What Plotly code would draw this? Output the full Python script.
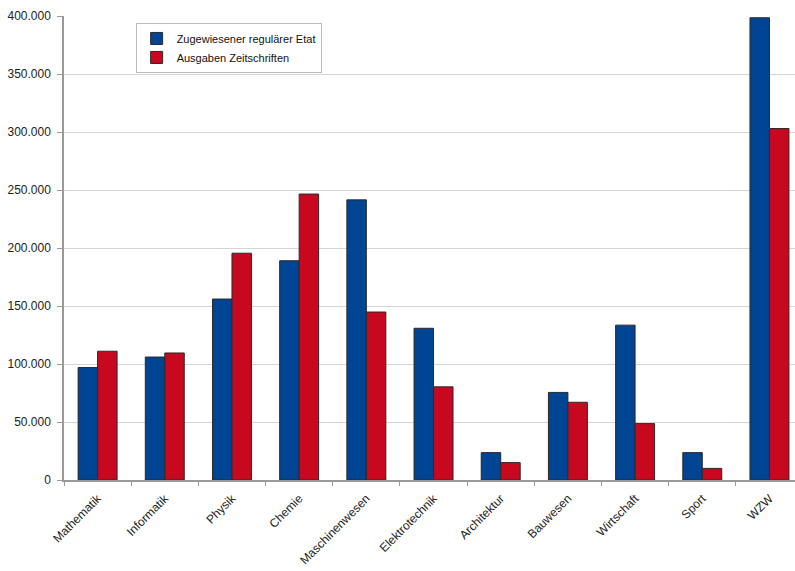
import plotly.graph_objects as go

categories = ["Mathematik", "Informatik", "Physik", "Chemie", "Maschinenwesen",
              "Elektrotechnik", "Architektur", "Bauwesen", "Wirtschaft", "Sport", "WZW"]
etat = [97000, 106000, 156000, 189000, 241500, 130800, 23600, 75500, 133500, 23600, 398500]
ausgaben = [111000, 109500, 195500, 246500, 144800, 80300, 15000, 67000, 48600, 10000, 303000]
series_names = ["Zugewiesener regulärer Etat", "Ausgaben Zeitschriften"]
yticks = [0, 50000, 100000, 150000, 200000, 250000, 300000, 350000, 400000]

blue = "#004494"
red = "#C8081E"
edge = dict(color="#2a2a2a", width=1)

fig = go.Figure()
fig.add_trace(go.Bar(x=categories, y=etat, name=series_names[0],
                     marker=dict(color=blue, line=edge)))
fig.add_trace(go.Bar(x=categories, y=ausgaben, name=series_names[1],
                     marker=dict(color=red, line=edge)))

fig.update_layout(
    width=795, height=571,
    margin=dict(l=64, r=0, t=16, b=91),
    paper_bgcolor="white", plot_bgcolor="white",
    barmode="group", bargap=0.42, bargroupgap=0,
    separators=",.",
    font=dict(family="Liberation Sans, Arial, sans-serif", size=11, color="#222"),
    showlegend=True,
    legend=dict(x=0.098, y=0.985, xanchor="left", yanchor="top",
                bgcolor="white", bordercolor="#bbbbbb", borderwidth=1,
                font=dict(size=11, color="#111"), tracegroupgap=0,
                itemwidth=30),
)
fig.update_xaxes(
    range=[-0.5, 10.38], tickangle=-45, tickson="boundaries",
    ticks="outside", ticklen=4, tickcolor="#999", ticklabelstandoff=5,
    showline=True, linecolor="#999", linewidth=1.5, automargin=False,
    showgrid=False, tickfont=dict(size=12, color="#222"),
)
fig.update_yaxes(
    range=[0, 400000], tickvals=yticks, tickformat=",d",
    ticks="outside", ticklen=5, tickcolor="#999", ticklabelstandoff=4,
    showline=True, linecolor="#999", linewidth=1.5, automargin=False,
    showgrid=True, gridcolor="#d4d4d4", gridwidth=1,
    tickfont=dict(size=12, color="#222"), zeroline=False,
)
fig.write_html("out.html")
